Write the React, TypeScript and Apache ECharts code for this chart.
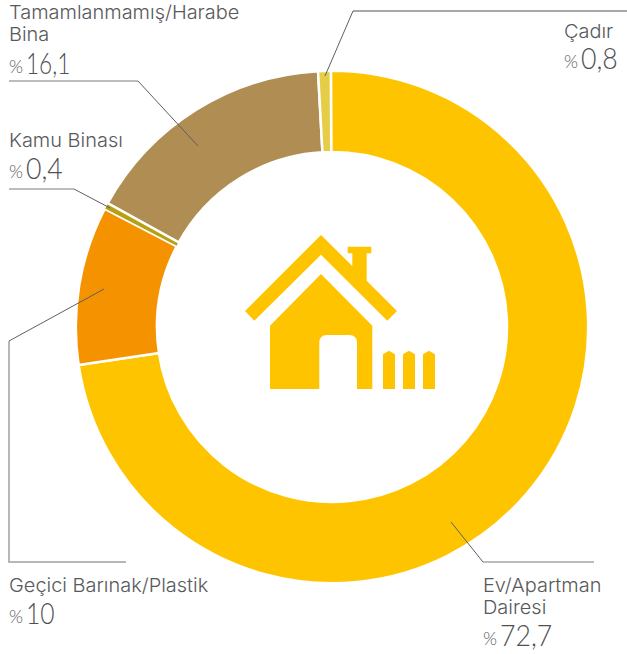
import React, { useEffect, useRef } from "react";
import * as echarts from "echarts";

const categories = ["Ev/Apartman Dairesi", "Geçici Barınak/Plastik", "Kamu Binası", "Tamamlanmamış/Harabe Bina", "Çadır"];
const values = [72.7, 10, 0.4, 16.1, 0.8];
const valueLabels = ["72,7", "10", "0,4", "16,1", "0,8"];
const colors = ["#ffc400", "#f49200", "#b8a014", "#b08d52", "#e5cd45"];
const borderWidths = [2.5, 2.5, 1, 2.5, 2.5];

const HOUSE =
  "M321 235L352.3 266L352.3 253.3L347.7 253.3L347.7 246.7L371.3 246.7L371.3 253.3L366.7 253.3L366.7 280.7L397 311L387.3 320.7L321 254.7L254.3 320.7L245 311Z" +
  "M321 274L372.3 325.7L372.3 389L357 389L357 343Q357 335 349 335L327 335Q319.3 335 319.3 343L319.3 389L270 389L270 325.7Z" +
  "M383 354.3L389 350.7L395 354.3L395 389L383 389Z" +
  "M403 354.3L409 350.7L415 354.3L415 389L403 389Z" +
  "M423 354.3L429 350.7L435 354.3L435 389L423 389Z";

echarts.graphic.registerShape("house", echarts.graphic.extendPath(HOUSE, {}));

const TEXT = "#58595b";
const Z = 10;

function nameText(s: string, x: number, y: number) {
  return {
    type: "text",
    x,
    y,
    z: Z,
    scaleX: 1.05,
    silent: true,
    style: { text: s, fill: TEXT, font: "300 19px Inter", textAlign: "left", textVerticalAlign: "middle" },
  };
}
function valueText(s: string, x: number, y: number, sx = 0.92) {
  return {
    type: "group",
    silent: true,
    z: Z,
    children: [
      { type: "text", x, y: y + 1, z: Z, style: { text: "%", fill: TEXT, font: "300 18px Lato", textAlign: "left", textVerticalAlign: "middle" } },
      { type: "text", x: x + 17, y: y - 2, z: Z, scaleX: sx, style: { text: s, fill: "#4f5052", font: "300 29px Lato", textAlign: "left", textVerticalAlign: "middle" } },
    ],
  };
}
function leader(inner: number[][], outer: number[][], stroke: string, width: number) {
  return [
    { type: "polyline", z: Z, silent: true, shape: { points: outer }, style: { fill: "none", stroke, lineWidth: width } },
    { type: "polyline", z: Z, silent: true, shape: { points: inner }, style: { fill: "none", stroke: "#5f5f5f", lineWidth: 1 } },
  ];
}

export default function App() {
  const ref = useRef<HTMLDivElement>(null);
  useEffect(() => {
    document.body.style.margin = "0";
    const chart = echarts.init(ref.current!, undefined, { renderer: "svg" });
    chart.setOption({
      animation: false,
      backgroundColor: "#ffffff",
      series: [
        {
          type: "pie",
          center: [332, 327],
          radius: [175, 256.2],
          startAngle: 90.25,
          clockwise: true,
          silent: true,
          label: { show: false },
          labelLine: { show: false },
          data: categories.map((name, i) => ({
            name,
            value: values[i],
            itemStyle: { color: colors[i], borderColor: "#ffffff", borderWidth: borderWidths[i] },
          })),
        },
      ],
      graphic: {
        elements: [
          { type: "house", x: 0, y: 0, silent: true, style: { fill: "#ffc400" } },
          ...leader([[138, 81], [198, 146]], [[9, 81], [138, 81]], "#7a7a7a", 1),
          ...leader([[74, 189], [110, 208]], [[9, 189], [74, 189]], "#7a7a7a", 1),
          ...leader([[353, 11], [325, 76]], [[627, 11], [353, 11]], "#a8a8a8", 1.8),
          ...leader([[104, 289], [9, 341]], [[9, 341], [9, 562], [126, 562]], "#a0a0a0", 1.5),
          ...leader([[451, 522], [483, 562]], [[483, 562], [594, 562]], "#7a7a7a", 1),
          nameText("Tamamlanmamış/Harabe", 9, 12),
          nameText("Bina", 9, 34),
          valueText(valueLabels[3], 9, 65, 0.78),
          nameText(categories[2], 9, 140),
          valueText(valueLabels[2], 9, 170),
          nameText(categories[4], 564, 31),
          valueText(valueLabels[4], 564, 60),
          nameText(categories[1], 9, 585),
          valueText(valueLabels[1], 9, 615, 0.85),
          nameText("Ev/Apartman", 483, 585),
          nameText("Dairesi", 483, 607),
          valueText(valueLabels[0], 483, 637),
        ],
      },
    });
    return () => chart.dispose();
  }, []);
  return <div ref={ref} style={{ width: 627, height: 654 }} />;
}
